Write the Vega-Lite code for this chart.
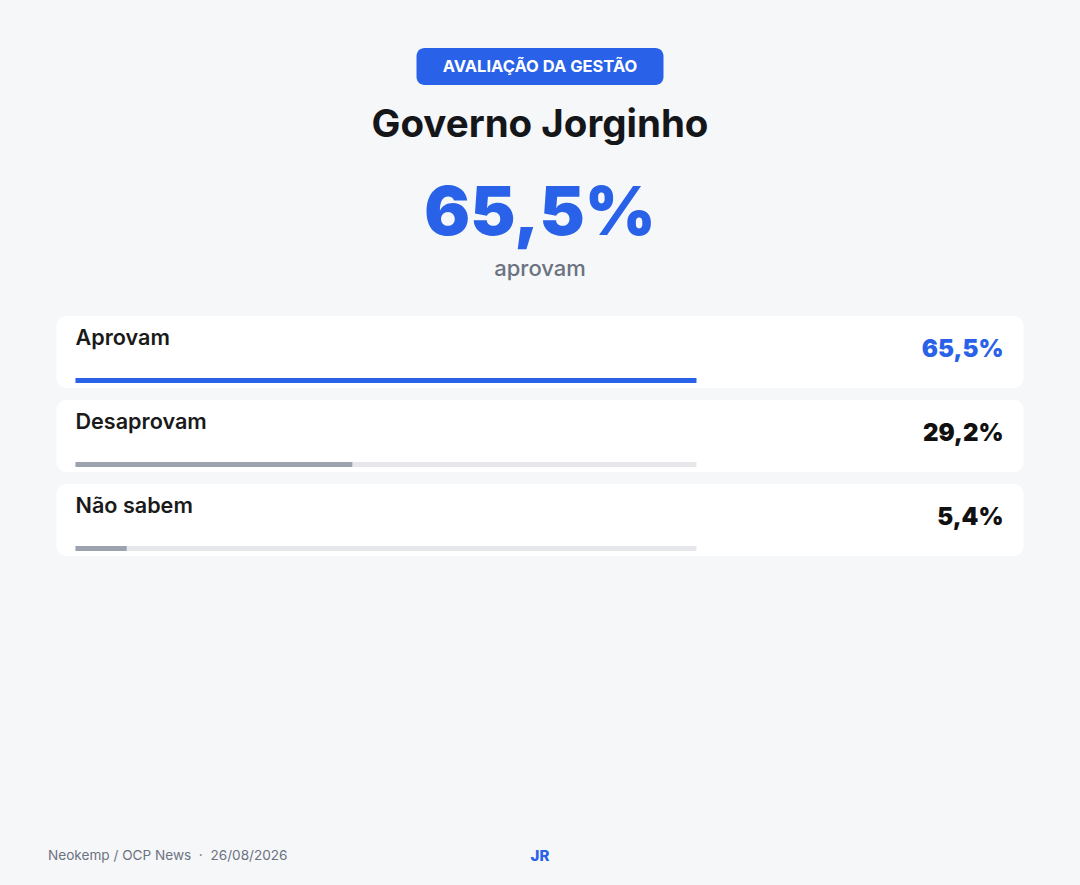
{
  "$schema": "https://vega.github.io/schema/vega-lite/v6.json",
  "background": "#f6f7f9",
  "padding": {"top": 48, "left": 0, "right": 0, "bottom": 19},
  "spacing": 0,
  "center": true,
  "bounds": "flush",
  "config": {
    "view": {"stroke": null},
    "font": "Inter",
    "locale": {"number": {"decimal": ",", "thousands": ".", "grouping": [3], "currency": ["R$", ""]}}
  },
  "datasets": {
    "results": [
      {"category": "Aprovam", "value": 0.655},
      {"category": "Desaprovam", "value": 0.292},
      {"category": "Não sabem", "value": 0.054}
    ],
    "meta": [
      {"badge": "AVALIAÇÃO DA GESTÃO", "title": "Governo Jorginho", "caption": "aprovam", "source": "Neokemp / OCP News \u00a0·\u00a0 26/08/2026", "author": "JR"}
    ]
  },
  "vconcat": [
    {
      "width": 247, "height": 37,
      "data": {"name": "meta"},
      "layer": [
        {"mark": {"type": "rect", "color": "#2962e8", "cornerRadius": 8},
         "encoding": {
           "x": {"datum": 0, "type": "quantitative", "axis": null, "scale": {"domain": [0, 1]}},
           "x2": {"datum": 1},
           "y": {"datum": 0, "type": "quantitative", "axis": null, "scale": {"domain": [0, 1]}},
           "y2": {"datum": 1}
         }},
        {"mark": {"type": "text", "color": "#ffffff", "fontSize": 16.5, "fontWeight": 700, "align": "center", "baseline": "middle"},
         "encoding": {"text": {"field": "badge"}}}
      ]
    },
    {
      "width": 1080, "height": 80,
      "data": {"name": "meta"},
      "mark": {"type": "text", "fontSize": 38.5, "fontWeight": 700, "color": "#14161a", "align": "center", "baseline": "middle"},
      "encoding": {"text": {"field": "title"}}
    },
    {
      "width": 1080, "height": 99,
      "data": {"name": "results"},
      "transform": [{"filter": "datum.category === 'Aprovam'"}],
      "mark": {"type": "text", "fontSize": 68, "fontWeight": 900, "color": "#2962e8", "align": "center", "baseline": "middle"},
      "encoding": {"text": {"field": "value", "type": "quantitative", "format": ".1%"}}
    },
    {
      "width": 1080, "height": 10,
      "data": {"name": "meta"},
      "mark": {"type": "text", "fontSize": 22, "fontWeight": 500, "color": "#6b7280", "align": "center", "baseline": "middle"},
      "encoding": {"text": {"field": "caption"}}
    },
    {
      "width": 1080, "height": 42,
      "data": {"name": "meta"},
      "mark": {"type": "text", "text": " "},
      "encoding": {}
    },
    {
      "width": 967, "height": 240,
      "data": {"name": "results"},
      "transform": [{"joinaggregate": [{"op": "max", "field": "value", "as": "maxValue"}]}],
      "layer": [
        {
          "mark": {"type": "rect", "color": "#ffffff", "cornerRadius": 10},
          "encoding": {
            "y": {"field": "category", "type": "nominal", "sort": null, "axis": null,
                  "scale": {"paddingInner": 0.142857, "paddingOuter": 0}},
            "x": {"datum": 0, "type": "quantitative", "axis": null, "scale": {"domain": [0, 1]}},
            "x2": {"datum": 1}
          }
        },
        {
          "layer": [
            {
              "mark": {"type": "rule", "color": "#e5e7eb", "strokeWidth": 5, "strokeCap": "butt"},
              "encoding": {
                "y": {"field": "category", "type": "nominal", "sort": null, "axis": null, "bandPosition": 0.896},
                "x": {"field": "maxValue", "type": "quantitative", "axis": null},
                "x2": {"datum": 0}
              }
            },
            {
              "mark": {"type": "rule", "strokeWidth": 5, "strokeCap": "butt"},
              "encoding": {
                "y": {"field": "category", "type": "nominal", "sort": null, "axis": null, "bandPosition": 0.896},
                "x": {"field": "value", "type": "quantitative", "axis": null, "scale": {"domain": [0, 1], "range": [19, 967]}},
                "x2": {"datum": 0},
                "color": {"condition": {"test": "datum.category === 'Aprovam'", "value": "#2962e8"}, "value": "#9ca3af"}
              }
            },
            {
              "mark": {"type": "text", "align": "left", "baseline": "middle", "fontSize": 21.6, "fontWeight": 600, "color": "#1a1a1a"},
              "encoding": {
                "y": {"field": "category", "type": "nominal", "sort": null, "axis": null, "bandPosition": 0.32},
                "x": {"datum": 0, "type": "quantitative", "axis": null},
                "text": {"field": "category"}
              }
            },
            {
              "mark": {"type": "text", "align": "right", "baseline": "middle", "fontSize": 24, "fontWeight": 900, "dx": -20},
              "encoding": {
                "y": {"field": "category", "type": "nominal", "sort": null, "axis": null, "bandPosition": 0.47},
                "x": {"datum": 1, "type": "quantitative", "axis": null},
                "text": {"field": "value", "type": "quantitative", "format": ".1%"},
                "color": {"condition": {"test": "datum.category === 'Aprovam'", "value": "#2962e8"}, "value": "#111111"}
              }
            }
          ]
        }
      ],
      "resolve": {"scale": {"x": "independent"}}
    },
    {
      "width": 1080, "height": 290,
      "data": {"name": "meta"},
      "mark": {"type": "text", "text": " "},
      "encoding": {}
    },
    {
      "width": 984, "height": 20,
      "data": {"name": "meta"},
      "layer": [
        {
          "mark": {"type": "text", "align": "left", "baseline": "middle", "fontSize": 13.6, "fontWeight": 400, "color": "#6b7280"},
          "encoding": {
            "x": {"datum": 0, "type": "quantitative", "axis": null, "scale": {"domain": [0, 1]}},
            "text": {"field": "source"}
          }
        },
        {
          "mark": {"type": "text", "align": "center", "baseline": "middle", "fontSize": 15, "fontWeight": 800, "color": "#2962e8"},
          "encoding": {
            "x": {"datum": 0.5, "type": "quantitative", "axis": null},
            "text": {"field": "author"}
          }
        }
      ]
    }
  ]
}
